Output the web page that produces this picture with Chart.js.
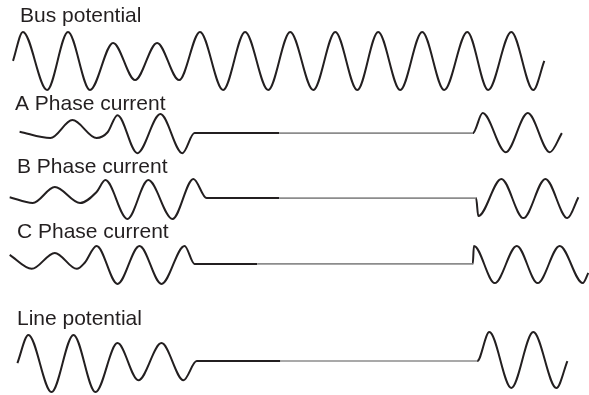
<!DOCTYPE html>
<html>
<head>
<meta charset="utf-8">
<script src="https://cdn.jsdelivr.net/npm/chart.js@4.4.0/dist/chart.umd.min.js"></script>
<style>
  html, body { margin: 0; padding: 0; background: #fff; }
  canvas { display: block; }
</style>
</head>
<body>
<canvas id="waveChart" width="589" height="395"></canvas>
<script>
// Fault record traces
// time in ms (one cycle = 20 ms), amplitude in per-unit of the bus peak
const traceNames = ['Bus potential', 'A Phase current', 'B Phase current', 'C Phase current', 'Line potential'];

const busTime   = [0, 4.5, 15.5, 25, 35, 45.5, 55.5, 65.5, 75.5, 85, 95.5, 105.5, 116, 126, 136.5, 146.5, 156.5, 166, 176, 186, 196, 206.5, 216, 226.5, 236.5, 241.5];
const busValues = [0, 1, -1, 1, -1, 0.62, -0.66, 0.62, -0.66, 1, -1, 1, -1, 1, -1, 1, -1, 1, -1, 1, -1, 1, -1, 1, -1, 0];

const phaseATime   = [3, 17, 27, 38, 43, 47.5, 56.5, 67, 77, 82.5, 121, 209, 213.5, 224, 234, 244, 249.5];
const phaseAValues = [0.05, -0.17, 0.45, -0.17, 0.03, 0.62, -0.69, 0.66, -0.69, 0, 0, 0, 0.69, -0.66, 0.69, -0.66, 0];

const phaseBTime   = [-1.5, 9, 19, 30.5, 38, 42, 52, 61.5, 72.5, 82, 88, 121, 210.5, 211.5, 222, 232, 242, 252, 257];
const phaseBValues = [0.03, -0.17, 0.38, -0.17, 0.21, 0.62, -0.72, 0.62, -0.72, 0.66, 0, 0, 0, -0.62, 0.66, -0.69, 0.66, -0.69, 0.03];

const phaseCTime   = [-1.5, 8.5, 19, 29, 32.5, 38, 47.5, 57.5, 67.5, 78, 82.5, 111, 209, 209.5, 219, 229, 238.5, 248.5, 259, 261.5];
const phaseCValues = [0.31, -0.17, 0.38, -0.17, 0.03, 0.62, -0.69, 0.62, -0.69, 0.62, 0, 0, 0, 0.62, -0.66, 0.62, -0.66, 0.62, -0.66, -0.31];

const lineTime   = [2, 7, 17.5, 27.5, 37.5, 47.5, 57, 67.5, 77.5, 83.5, 121.5, 211, 216.5, 226.5, 236.5, 247, 252];
const lineValues = [-0.07, 0.9, -1.07, 0.9, -1.07, 0.62, -0.66, 0.62, -0.66, 0, 0, 0, 1, -0.93, 1, -0.93, 0];

// layout: vertical centre of each trace, where the dead line turns grey, label anchors
const traceCenters = [11.52, 9.03, 6.79, 4.52, 1.17];
const fadeFrom = [null, 121, 121, 111, 121.5];
const fadeTo = [null, 209, 210.5, 209, 211];
const labelAnchors = [[3.2, 12.86], [0.9, 9.83], [1.8, 7.66], [1.8, 5.41], [1.8, 2.41]];

const traceTimes = [busTime, phaseATime, phaseBTime, phaseCTime, lineTime];
const traceValues = [busValues, phaseAValues, phaseBValues, phaseCValues, lineValues];

const INK = '#231f20';
const FADED = '#8c8c8c';

const datasets = traceNames.map((name, i) => ({
    label: name,
    data: traceTimes[i].map((t, j) => ({ x: t, y: traceCenters[i] + traceValues[i][j] })),
    borderColor: INK,
    borderWidth: 2,
    pointRadius: 0,
    cubicInterpolationMode: 'monotone',
    clip: false,
    segment: {
        borderColor: ctx => isFaded(i, ctx) ? FADED : INK,
        borderWidth: ctx => isFaded(i, ctx) ? 1.6 : 2
    }
}));

function isFaded(i, ctx) {
    if (fadeFrom[i] === null) return false;
    return ctx.p0.parsed.x >= fadeFrom[i] && ctx.p1.parsed.x <= fadeTo[i] + 0.01;
}

const traceLabels = {
    id: 'traceLabels',
    afterDatasetsDraw(chart) {
        const { ctx, scales } = chart;
        ctx.save();
        ctx.font = '21px "Liberation Sans", Arial, sans-serif';
        ctx.fillStyle = INK;
        ctx.textBaseline = 'alphabetic';
        traceNames.forEach((name, i) => {
            const [t, v] = labelAnchors[i];
            ctx.fillText(name, scales.x.getPixelForValue(t), scales.y.getPixelForValue(v));
        });
        ctx.restore();
    }
};

new Chart(document.getElementById('waveChart').getContext('2d'), {
    type: 'line',
    data: { datasets: datasets },
    options: {
        responsive: false,
        animation: false,
        devicePixelRatio: 1,
        layout: { padding: 0 },
        plugins: {
            legend: { display: false },
            tooltip: { enabled: false }
        },
        scales: {
            x: { type: 'linear', min: -5.91, max: 261.82, display: false },
            y: { type: 'linear', min: 0, max: 13.62, display: false }
        }
    },
    plugins: [traceLabels]
});
</script>
</body>
</html>
